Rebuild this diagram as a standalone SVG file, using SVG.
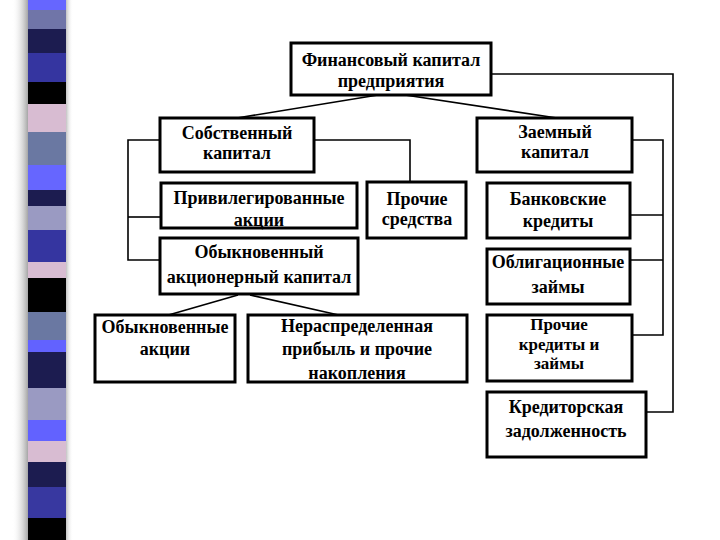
<svg xmlns="http://www.w3.org/2000/svg" width="720" height="540" viewBox="0 0 720 540">
<defs>
<style>
.box{fill:#fff;stroke:#000;stroke-width:3}
.conn{fill:none;stroke:#000;stroke-width:1.6}
.t{font-family:"Liberation Serif","Times New Roman",serif;font-weight:bold;font-size:18px;text-anchor:middle;fill:#000}
.s{font-size:17px}
</style>
<linearGradient id="shL" x1="0" x2="1" y1="0" y2="0">
<stop offset="0" stop-color="#fff" stop-opacity="0"/>
<stop offset="1" stop-color="#9a9a9a"/>
</linearGradient>
<linearGradient id="shR" x1="0" x2="1" y1="0" y2="0">
<stop offset="0" stop-color="#b0b0b0"/>
<stop offset="1" stop-color="#fff" stop-opacity="0"/>
</linearGradient>
</defs>
<rect width="720" height="540" fill="#fff"/>
<g id="stripe">
<rect x="12" y="0" width="17" height="540" fill="url(#shL)"/>
<rect x="65" y="0" width="8" height="540" fill="url(#shR)"/>
<rect x="28" y="0" width="38" height="10" fill="#6666ff"/>
<rect x="28" y="10" width="38" height="19" fill="#7075a8"/>
<rect x="28" y="29" width="38" height="24" fill="#1c1c50"/>
<rect x="28" y="53" width="38" height="29" fill="#3535a0"/>
<rect x="28" y="82" width="38" height="22" fill="#000"/>
<rect x="28" y="104" width="38" height="28" fill="#d8bcd2"/>
<rect x="28" y="132" width="38" height="33" fill="#6a78a2"/>
<rect x="28" y="165" width="38" height="25" fill="#6666ff"/>
<rect x="28" y="190" width="38" height="16" fill="#1c1c50"/>
<rect x="28" y="206" width="38" height="24" fill="#9a9ac2"/>
<rect x="28" y="230" width="38" height="32" fill="#3535a0"/>
<rect x="28" y="262" width="38" height="16" fill="#d8bcd2"/>
<rect x="28" y="278" width="38" height="34" fill="#000"/>
<rect x="28" y="312" width="38" height="28" fill="#6a78a2"/>
<rect x="28" y="340" width="38" height="12" fill="#6262ff"/>
<rect x="28" y="352" width="38" height="36" fill="#1c1c50"/>
<rect x="28" y="388" width="38" height="32" fill="#9a9ac2"/>
<rect x="28" y="420" width="38" height="21" fill="#6262ff"/>
<rect x="28" y="441" width="38" height="21" fill="#d8bcd2"/>
<rect x="28" y="462" width="38" height="25" fill="#1c1c50"/>
<rect x="28" y="487" width="38" height="31" fill="#3838a0"/>
<rect x="28" y="518" width="38" height="22" fill="#000"/>
</g>
<g id="connectors">
<line class="conn" x1="378" y1="95" x2="237" y2="118"/>
<line class="conn" x1="405" y1="95" x2="557" y2="118"/>
<polyline class="conn" points="160,140 128,140 128,260 160,260"/>
<line class="conn" x1="128" y1="217" x2="160" y2="217"/>
<polyline class="conn" points="314,140 410,140 410,182"/>
<line class="conn" x1="238" y1="295" x2="165" y2="316"/>
<line class="conn" x1="250" y1="295" x2="343" y2="316"/>
<polyline class="conn" points="491,74 673,74 673,412 647,412"/>
<polyline class="conn" points="632,140 663,140 663,335 632,335"/>
<line class="conn" x1="630" y1="215" x2="663" y2="215"/>
<line class="conn" x1="630" y1="260" x2="663" y2="260"/>
</g>
<g id="n-fin">
<rect class="box" x="291" y="43" width="200" height="52"/>
<text class="t" x="391" y="66">Финансовый капитал</text>
<text class="t" x="391" y="87">предприятия</text>
</g>
<g id="n-own">
<rect class="box" x="160" y="118" width="154" height="54"/>
<text class="t" x="237" y="139">Собственный</text>
<text class="t" x="237" y="159">капитал</text>
</g>
<g id="n-pref">
<rect class="box" x="161" y="183" width="196" height="45"/>
<text class="t" x="259" y="204">Привилегированные</text>
<text class="t" x="259" y="226">акции</text>
</g>
<g id="n-other">
<rect class="box" x="367" y="182" width="99" height="56"/>
<text class="t" x="417" y="205">Прочие</text>
<text class="t" x="417" y="225">средства</text>
</g>
<g id="n-common">
<rect class="box" x="160" y="238" width="198" height="56"/>
<text class="t" x="259" y="258">Обыкновенный</text>
<text class="t" x="259" y="283">акционерный капитал</text>
</g>
<g id="n-shares">
<rect class="box" x="95" y="315" width="140" height="67"/>
<text class="t" x="165" y="333">Обыкновенные</text>
<text class="t" x="165" y="355">акции</text>
</g>
<g id="n-retained">
<rect class="box" x="248" y="315" width="219" height="67"/>
<text class="t" x="357" y="332">Нераспределенная</text>
<text class="t" x="357" y="355">прибыль и прочие</text>
<text class="t" x="357" y="379">накопления</text>
</g>
<g id="n-borrowed">
<rect class="box" x="477" y="118" width="155" height="54"/>
<text class="t" x="555" y="138">Заемный</text>
<text class="t" x="555" y="158">капитал</text>
</g>
<g id="n-bank">
<rect class="box" x="487" y="183" width="143" height="55"/>
<text class="t" x="558" y="205">Банковские</text>
<text class="t" x="558" y="227">кредиты</text>
</g>
<g id="n-bonds">
<rect class="box" x="487" y="249" width="143" height="55"/>
<text class="t" x="558" y="268">Облигационные</text>
<text class="t" x="558" y="293">займы</text>
</g>
<g id="n-loans">
<rect class="box" x="487" y="315" width="145" height="66"/>
<text class="t s" x="559" y="330">Прочие</text>
<text class="t s" x="559" y="349.5">кредиты и</text>
<text class="t s" x="559" y="369">займы</text>
</g>
<g id="n-payable">
<rect class="box" x="487" y="392" width="159" height="65"/>
<text class="t" x="566" y="413">Кредиторская</text>
<text class="t" x="566" y="437">задолженность</text>
</g>
</svg>
